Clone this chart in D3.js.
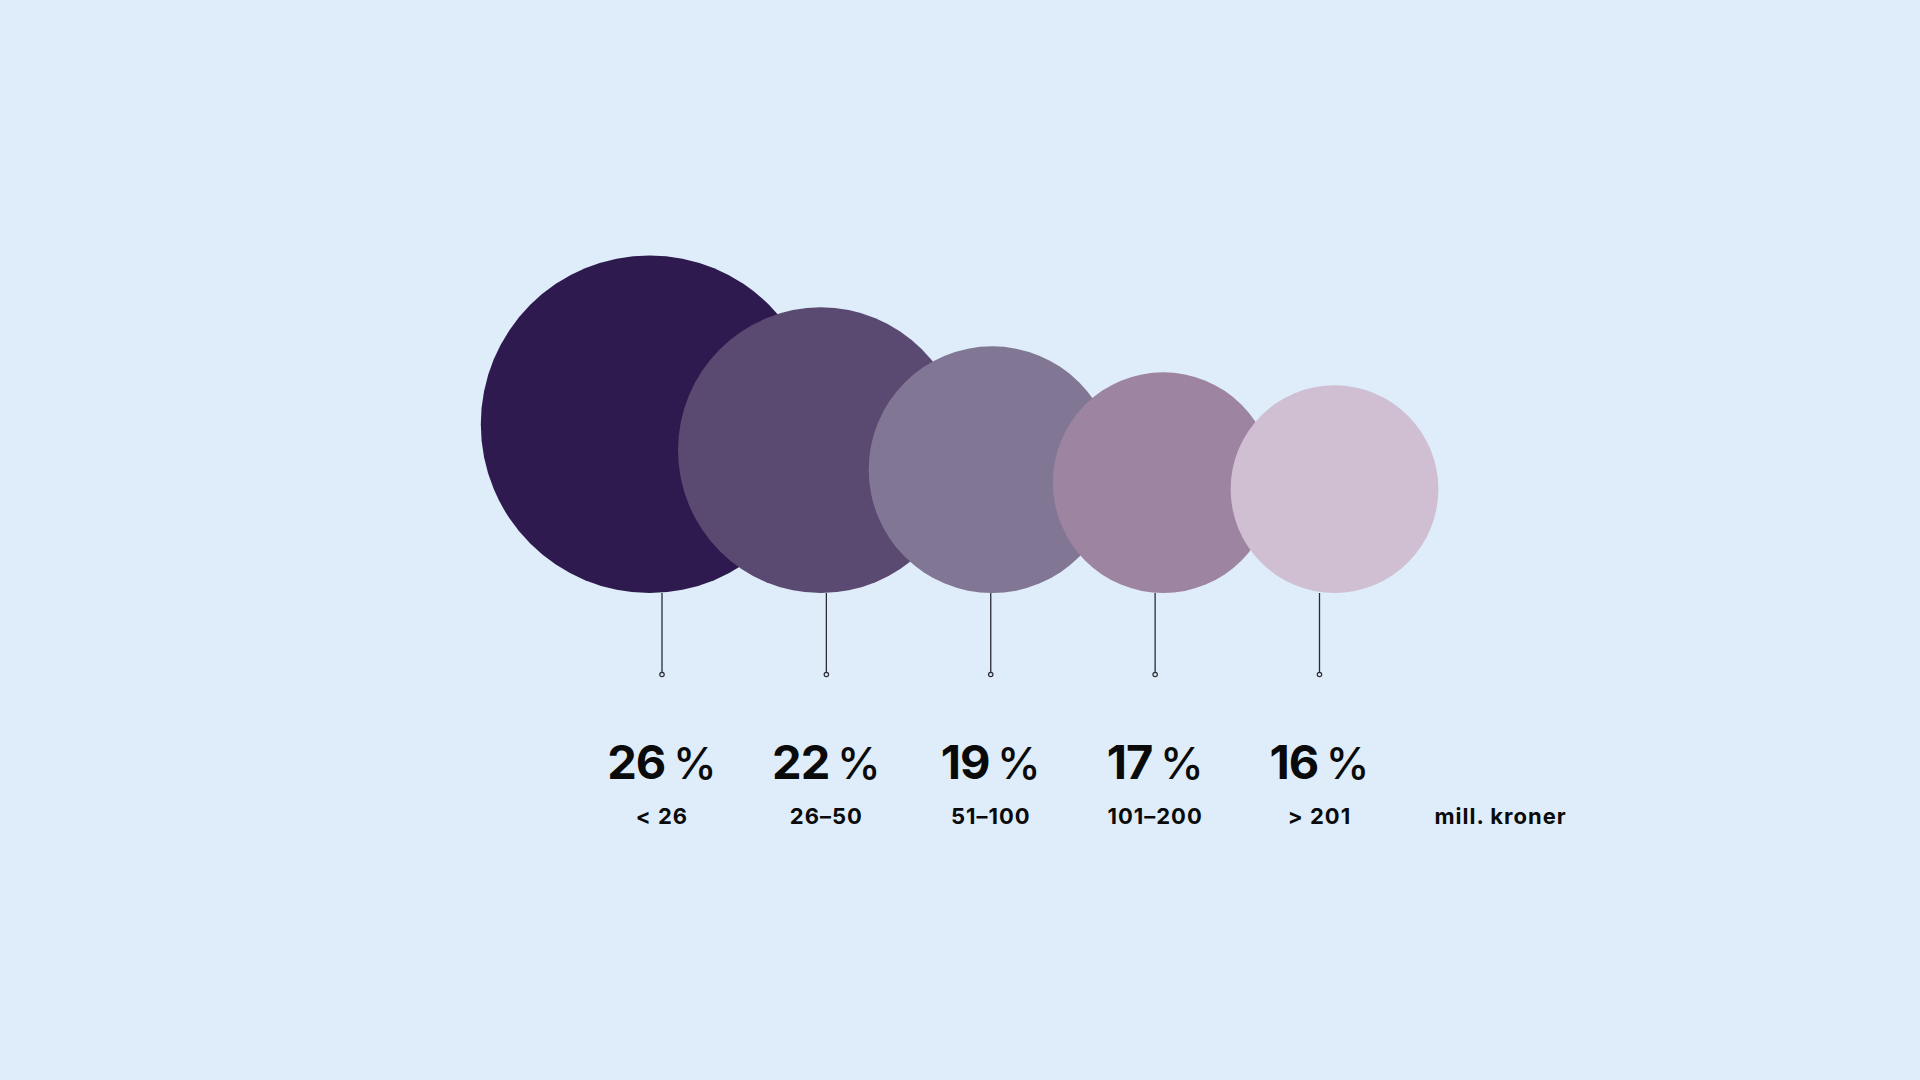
<!DOCTYPE html>
<html>
<head>
<meta charset="utf-8">
<script src="https://cdn.jsdelivr.net/npm/d3@7"></script>
<style>
  html, body { margin: 0; padding: 0; background: #deedf9; }
  svg { display: block; }
</style>
</head>
<body>
<svg id="chart" width="1920" height="1080"></svg>
<script>
// share by company size (mill. kroner)
const categories = ["< 26", "26\u201350", "51\u2013100", "101\u2013200", "> 201"];
const shares = [26, 22, 19, 17, 16];
const colors = ["#2e1a4e", "#5a4970", "#817794", "#9d84a1", "#d0bfd3"];
const unitLabel = "mill. kroner";

const data = categories.map(function (c, i) {
  return { cat: c, value: shares[i], color: colors[i] };
});

const svg = d3.select("#chart");
const g = svg.append("g");

const baseY = 593;

// circle centres and label positions use their own point scales
const xCircle = d3.scalePoint().domain(categories).range([649.6, 1334.5]);
const xLabel = d3.scalePoint().domain(categories).range([662, 1319.5]);
const r = d3.scaleLinear().domain([0, 26]).range([0, 168.8]);

// bubbles
g.selectAll(".bubble")
  .data(data)
  .enter()
  .append("circle")
  .attr("class", "bubble")
  .attr("cx", function (d) { return xCircle(d.cat); })
  .attr("cy", function (d) { return baseY - r(d.value); })
  .attr("r", function (d) { return r(d.value); })
  .style("fill", function (d) { return d.color; });

// stems
g.selectAll(".stem")
  .data(data)
  .enter()
  .append("line")
  .attr("class", "stem")
  .attr("x1", function (d) { return xLabel(d.cat); })
  .attr("x2", function (d) { return xLabel(d.cat); })
  .attr("y1", baseY)
  .attr("y2", 672.5)
  .style("stroke", "#2b2b33")
  .style("stroke-width", 1.3);

g.selectAll(".stem-end")
  .data(data)
  .enter()
  .append("circle")
  .attr("class", "stem-end")
  .attr("cx", function (d) { return xLabel(d.cat); })
  .attr("cy", 674.5)
  .attr("r", 2.2)
  .style("fill", "#deedf9")
  .style("stroke", "#2b2b33")
  .style("stroke-width", 1.2);

// percent labels
const pct = g.selectAll(".pct")
  .data(data)
  .enter()
  .append("text")
  .attr("class", "pct")
  .attr("x", function (d) { return xLabel(d.cat); })
  .attr("y", 779)
  .attr("text-anchor", "middle")
  .style("font-family", "Inter, 'Noto Sans', sans-serif")
  .style("font-size", "47px")
  .style("fill", "#0a0a0a");

pct.append("tspan")
  .style("font-weight", 700)
  .style("letter-spacing", "-1px")
  .text(function (d) { return d.value; });

pct.append("tspan")
  .style("font-weight", 500)
  .style("font-size", "44px")
  .text("\u2009%");

// category labels
g.selectAll(".cat")
  .data(data)
  .enter()
  .append("text")
  .attr("class", "cat")
  .attr("x", function (d) { return xLabel(d.cat); })
  .attr("y", 824)
  .attr("text-anchor", "middle")
  .style("font-family", "Inter, 'Noto Sans', sans-serif")
  .style("font-weight", 700)
  .style("font-size", "22px")
  .style("letter-spacing", "1px")
  .style("fill", "#0a0a0a")
  .text(function (d) { return d.cat; });

// unit
g.append("text")
  .attr("x", xLabel(categories[categories.length - 1]) + 115)
  .attr("y", 824)
  .attr("text-anchor", "start")
  .style("font-family", "Inter, 'Noto Sans', sans-serif")
  .style("font-weight", 700)
  .style("font-size", "22px")
  .style("letter-spacing", "1px")
  .style("fill", "#0a0a0a")
  .text(unitLabel);
</script>
</body>
</html>
